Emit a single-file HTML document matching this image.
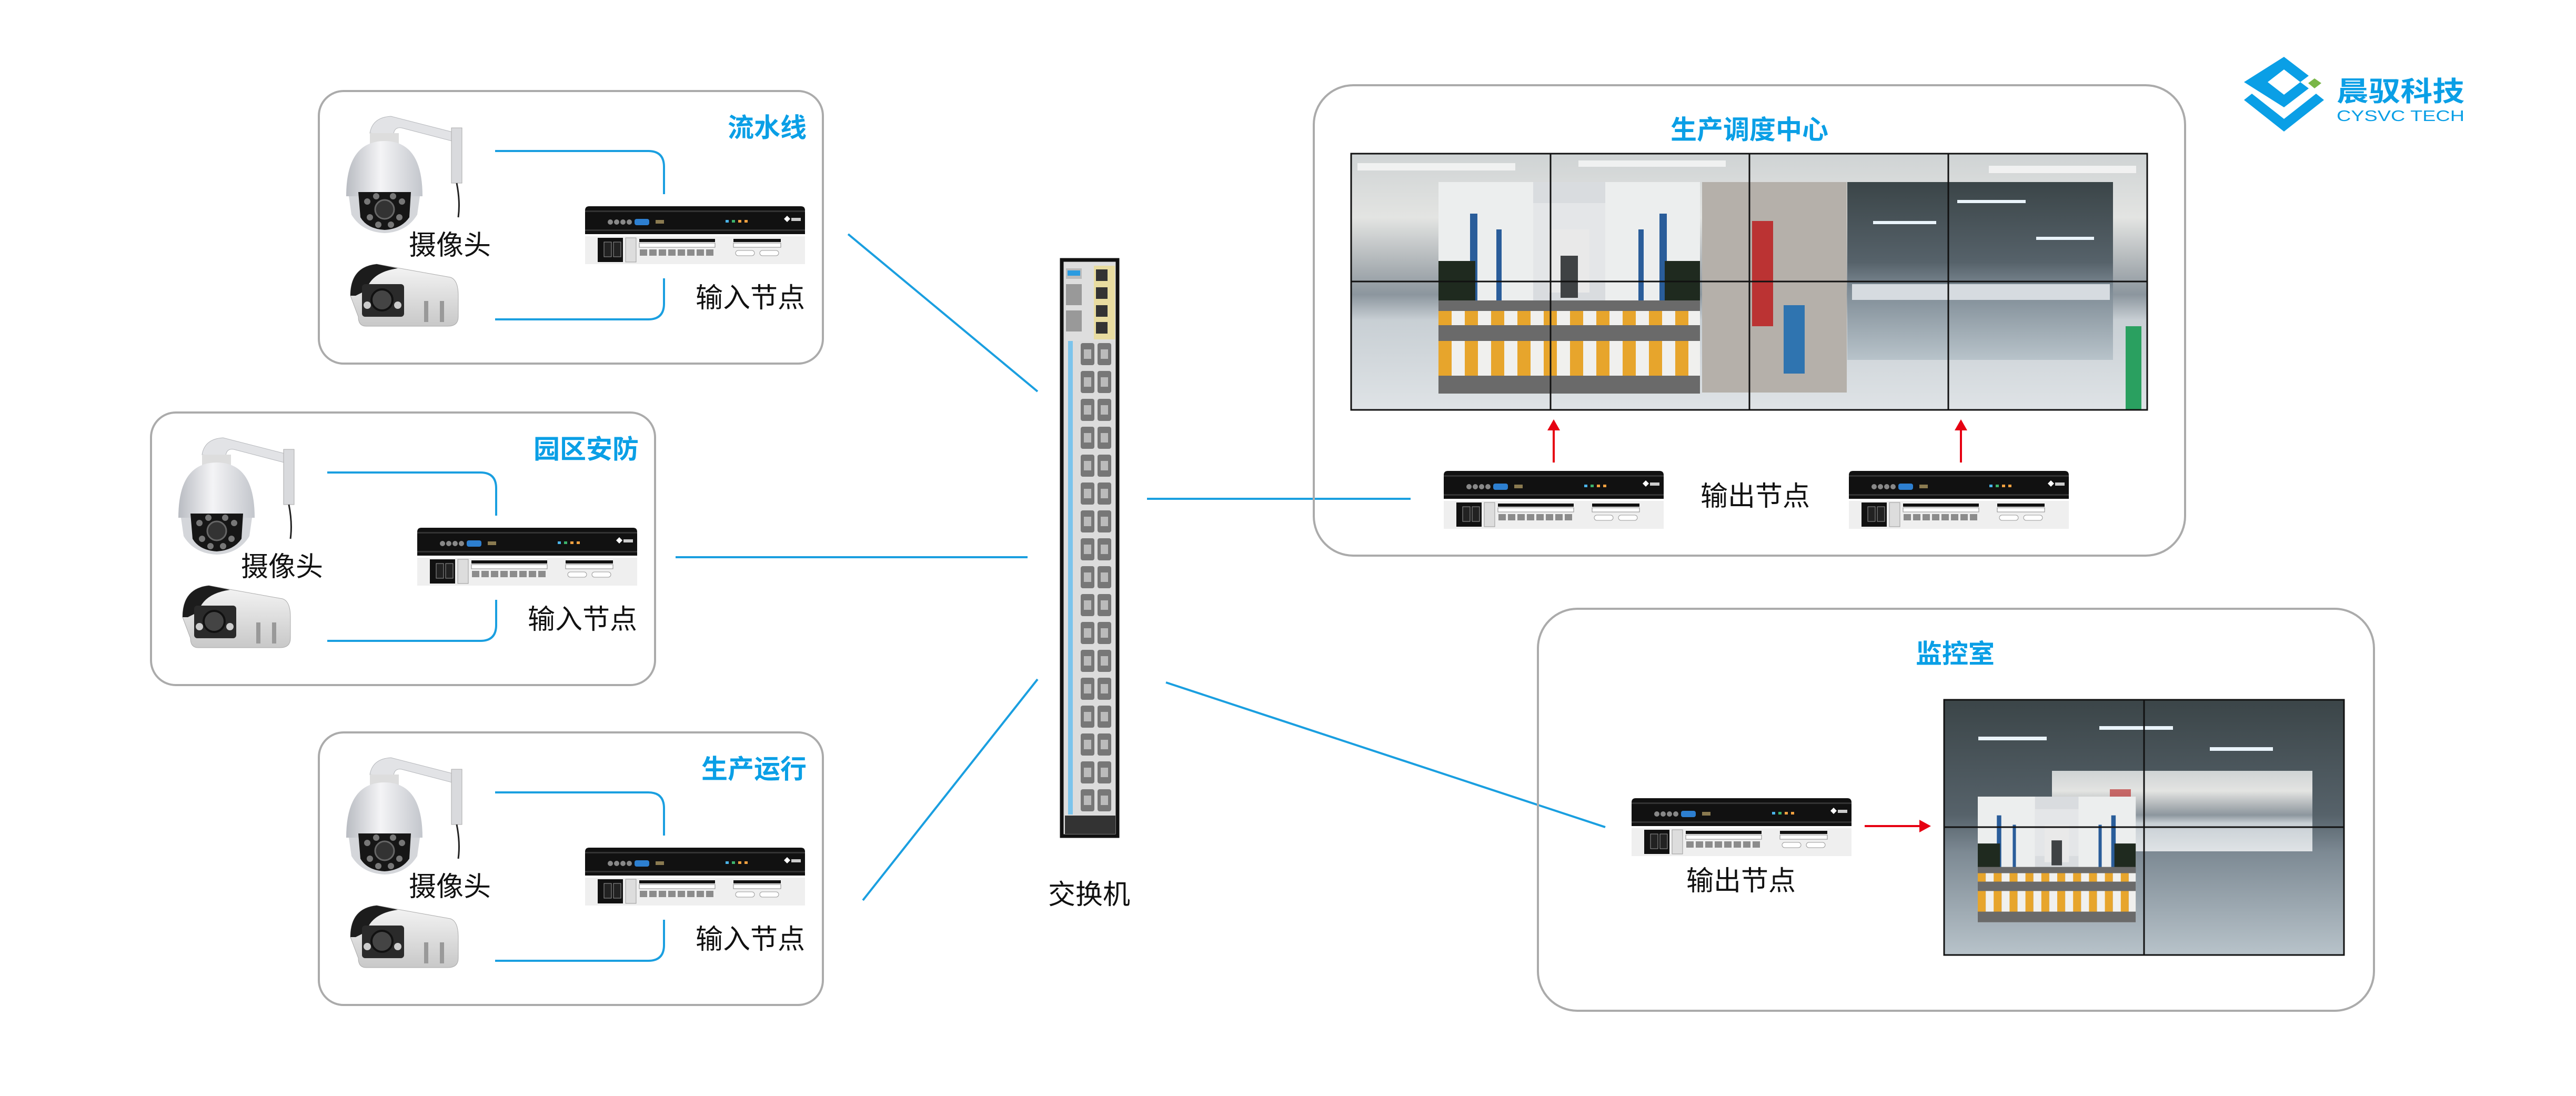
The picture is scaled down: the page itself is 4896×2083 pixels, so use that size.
<!DOCTYPE html>
<html><head><meta charset="utf-8"><style>
html,body{margin:0;padding:0;background:#fff;}
svg{display:block;}
.t{font-family:"Liberation Sans","Noto Sans CJK SC",sans-serif;}
</style></head><body>
<svg width="4896" height="2083" viewBox="0 0 4896 2083" xmlns="http://www.w3.org/2000/svg">
<defs>
<linearGradient id="fact" x1="0" y1="0" x2="0" y2="1">
<stop offset="0" stop-color="#cfd3d4"/><stop offset="0.25" stop-color="#e3e4e2"/><stop offset="0.45" stop-color="#a9afb3"/><stop offset="0.55" stop-color="#8c969e"/><stop offset="0.65" stop-color="#c8cfd4"/><stop offset="1" stop-color="#dfe3e6"/>
</linearGradient>
<linearGradient id="dark" x1="0" y1="0" x2="0" y2="1">
<stop offset="0" stop-color="#3b4548"/><stop offset="0.45" stop-color="#56626a"/><stop offset="0.6" stop-color="#7d8a94"/><stop offset="1" stop-color="#b8c3ca"/>
</linearGradient>
<linearGradient id="dome" x1="0" y1="0" x2="1" y2="0">
<stop offset="0" stop-color="#b9bcc2"/><stop offset="0.45" stop-color="#f4f4f6"/><stop offset="1" stop-color="#c3c6cc"/>
</linearGradient>
<linearGradient id="bul" x1="0" y1="0" x2="0" y2="1">
<stop offset="0" stop-color="#f5f5f5"/><stop offset="1" stop-color="#c8c8c8"/>
</linearGradient>
<pattern id="cross" x="0" y="0" width="50" height="10" patternUnits="userSpaceOnUse">
<rect width="25" height="10" fill="#e7a52c"/><rect x="25" width="25" height="10" fill="#f0f0ee"/>
</pattern>

<g id="bld">
<rect x="0" y="0" width="497" height="402" fill="#d9dcdf"/>
<rect x="0" y="0" width="180" height="230" fill="#eceeee"/>
<rect x="317" y="0" width="180" height="230" fill="#eceeee"/>
<rect x="180" y="40" width="137" height="150" fill="#e4e6e8"/>
<rect x="210" y="90" width="77" height="120" fill="#e9e9e9"/>
<rect x="232" y="140" width="33" height="80" fill="#3f4244"/>
<rect x="60" y="60" width="14" height="170" fill="#2a5d9a"/>
<rect x="110" y="90" width="10" height="140" fill="#2a5d9a"/>
<rect x="380" y="90" width="10" height="140" fill="#2a5d9a"/>
<rect x="420" y="60" width="14" height="170" fill="#2a5d9a"/>
<rect x="0" y="150" width="70" height="95" fill="#1f2a1f"/>
<rect x="430" y="150" width="67" height="95" fill="#1f2a1f"/>
<rect x="0" y="225" width="497" height="177" fill="#6a6a6a"/>
<rect x="0" y="245" width="497" height="27" fill="url(#cross)"/>
<rect x="0" y="302" width="497" height="66" fill="url(#cross)"/>
</g>

<g id="dev">
<path d="M0,8 Q0,0 8,0 H410 Q418,0 418,8 V53 H0 Z" fill="#111"/>
<rect x="0" y="8" width="418" height="3" fill="#333"/>
<rect x="0" y="44" width="418" height="3" fill="#333"/>
<g fill="#888"><circle cx="48" cy="30" r="5"/><circle cx="60" cy="30" r="5"/><circle cx="72" cy="30" r="5"/><circle cx="84" cy="30" r="5"/></g>
<rect x="94" y="24" width="28" height="12" rx="4" fill="#2d7fd0"/>
<rect x="134" y="26" width="16" height="7" fill="#8a7a50"/>
<rect x="267" y="26" width="6" height="5" fill="#4ab3e8"/><rect x="279" y="26" width="6" height="5" fill="#3cb36c"/><rect x="291" y="26" width="6" height="5" fill="#f0a040"/><rect x="303" y="26" width="6" height="5" fill="#f0a040"/>
<polygon points="378,24 384,18 390,24 384,30" fill="#fff"/>
<rect x="392" y="22" width="18" height="6" fill="#ccc"/>
<rect x="0" y="57" width="418" height="53" fill="#efefef"/>
<rect x="24" y="60" width="48" height="46" fill="#111"/>
<rect x="36" y="68" width="14" height="28" fill="#222" stroke="#999"/>
<rect x="54" y="68" width="14" height="28" fill="#222" stroke="#999"/>
<rect x="77" y="60" width="20" height="46" fill="#ddd" stroke="#999"/>
<rect x="103" y="62" width="144" height="6" fill="#111"/>
<rect x="103" y="70" width="144" height="8" fill="#fff" stroke="#888"/>
<g fill="#8c8c8c"><rect x="104" y="82" width="14" height="12"/><rect x="122" y="82" width="14" height="12"/><rect x="140" y="82" width="14" height="12"/><rect x="158" y="82" width="14" height="12"/><rect x="176" y="82" width="14" height="12"/><rect x="194" y="82" width="14" height="12"/><rect x="212" y="82" width="14" height="12"/><rect x="230" y="82" width="14" height="12"/></g>
<rect x="282" y="62" width="90" height="6" fill="#111"/>
<rect x="282" y="70" width="90" height="8" fill="#fff" stroke="#888"/>
<rect x="286" y="84" width="36" height="10" rx="5" fill="#fff" stroke="#999"/>
<rect x="332" y="84" width="36" height="10" rx="5" fill="#fff" stroke="#999"/>
</g>

<g id="domecam">
<path d="M50,40 Q55,10 90,8 L215,40 L225,45 L225,60 L110,30 Q95,28 95,45 Z" fill="#e2e3e6" stroke="#b5b7bb"/>
<rect x="205" y="30" width="20" height="105" fill="#d9dadd" stroke="#aaa"/>
<path d="M215,135 Q222,170 218,200" stroke="#222" stroke-width="3" fill="none"/>
<rect x="50" y="40" width="55" height="20" fill="#ddd"/>
<path d="M5,160 Q5,55 78,55 Q150,55 150,160 Z" fill="url(#dome)"/>
<path d="M10,160 L145,160 L140,195 Q120,228 78,230 Q35,228 15,195 Z" fill="#d4d6da"/>
<path d="M28,152 L128,152 L125,200 Q110,222 78,224 Q45,222 32,200 Z" fill="#161616"/>
<circle cx="78" cy="185" r="18" fill="#333" stroke="#666" stroke-width="3"/>
<g fill="#777"><circle cx="45" cy="170" r="6"/><circle cx="111" cy="170" r="6"/><circle cx="50" cy="200" r="6"/><circle cx="106" cy="200" r="6"/><circle cx="62" cy="160" r="6"/><circle cx="94" cy="160" r="6"/><circle cx="66" cy="214" r="6"/><circle cx="90" cy="214" r="6"/></g>
</g>
<g id="bulcam">
<path d="M10,60 Q10,5 60,0 L200,25 Q215,30 215,60 L215,100 Q215,118 195,118 L40,118 Q25,118 25,100 Z" fill="url(#bul)" stroke="#aaa"/>
<path d="M10,60 Q10,5 60,0 L100,8 Q50,15 40,50 L20,60 Z" fill="#1c1c1c"/>
<rect x="32" y="38" width="80" height="62" rx="6" fill="#2a2a2a"/>
<circle cx="70" cy="68" r="20" fill="#444" stroke="#111" stroke-width="4"/>
<circle cx="42" cy="78" r="7" fill="#ccc"/><circle cx="100" cy="78" r="7" fill="#ccc"/>
<rect x="150" y="70" width="8" height="40" fill="#999"/><rect x="180" y="70" width="8" height="40" fill="#999"/>
</g>

<g id="boxc">
<rect x="606" y="173" width="958" height="518" rx="47" fill="none" stroke="#ababab" stroke-width="4"/>
<use href="#domecam" x="653" y="213"/>
<use href="#bulcam" x="656" y="502"/>
<text class="t" x="777" y="484" font-size="52" fill="#111">摄像头</text>
<text class="t" x="1530" y="584" font-size="52" fill="#111" text-anchor="end">输入节点</text>
<path d="M941,287 H1232 Q1262,287 1262,317 V369" fill="none" stroke="#1a9fe0" stroke-width="4"/>
<path d="M1262,529 V577 Q1262,607 1232,607 H941" fill="none" stroke="#1a9fe0" stroke-width="4"/>
<use href="#dev" x="1112" y="392"/>
</g>

<pattern id="ports" x="2030" y="648" width="90" height="53" patternUnits="userSpaceOnUse">
<rect width="90" height="53" fill="#dcdcdc"/>
<rect x="24" y="4" width="26" height="42" rx="4" fill="#777"/>
<rect x="56" y="4" width="26" height="42" rx="4" fill="#777"/>
<rect x="30" y="16" width="14" height="18" fill="#bbb"/>
<rect x="62" y="16" width="14" height="18" fill="#bbb"/>
<rect x="0" y="0" width="9" height="53" fill="#7cc4ec"/>
</pattern>
</defs>

<rect width="4896" height="2083" fill="#fff"/>

<use href="#boxc"/>
<text class="t" x="1533" y="260" font-size="50" font-weight="bold" fill="#0a9fe6" text-anchor="end">流水线</text>
<use href="#boxc" x="-319" y="611"/>
<text class="t" x="1214" y="871" font-size="50" font-weight="bold" fill="#0a9fe6" text-anchor="end">园区安防</text>
<use href="#boxc" x="0" y="1219"/>
<text class="t" x="1533" y="1479" font-size="50" font-weight="bold" fill="#0a9fe6" text-anchor="end">生产运行</text>

<g stroke="#1a9fe0" stroke-width="4" fill="none">
<line x1="1612" y1="445" x2="1972" y2="744"/>
<line x1="1284" y1="1059" x2="1953" y2="1059"/>
<line x1="1640" y1="1711" x2="1972" y2="1291"/>
<line x1="2180" y1="948" x2="2681" y2="948"/>
<line x1="2216" y1="1297" x2="3051" y2="1572"/>
</g>

<rect x="2018" y="494" width="106" height="1095" fill="#dedede" stroke="#111" stroke-width="7"/>
<rect x="2026" y="510" width="30" height="20" fill="#bbb"/><rect x="2029" y="514" width="24" height="10" fill="#2a9be0"/>
<rect x="2026" y="540" width="30" height="40" fill="#999"/>
<rect x="2026" y="590" width="30" height="40" fill="#999"/>
<rect x="2079" y="505" width="40" height="140" fill="#e8dca0"/>
<g fill="#333"><rect x="2083" y="512" width="22" height="22"/><rect x="2083" y="546" width="22" height="22"/><rect x="2083" y="580" width="22" height="22"/><rect x="2083" y="612" width="22" height="22"/></g>
<rect x="2030" y="648" width="90" height="900" fill="url(#ports)"/>
<rect x="2024" y="1550" width="96" height="35" fill="#333"/>
<text class="t" x="2070" y="1718" font-size="52" fill="#111" text-anchor="middle">交换机</text>

<rect x="2497" y="162" width="1656" height="894" rx="75" fill="none" stroke="#ababab" stroke-width="4"/>
<text class="t" x="3325" y="264" font-size="50" font-weight="bold" fill="#0a9fe6" text-anchor="middle">生产调度中心</text>
<rect x="2568" y="292" width="1513" height="487" fill="url(#fact)"/>
<g fill="#f8f8f8" opacity="0.8"><rect x="2580" y="310" width="300" height="14"/><rect x="3000" y="305" width="280" height="12"/><rect x="3780" y="315" width="280" height="14"/></g>
<rect x="3235" y="346" width="275" height="400" fill="#b5b0aa"/>
<rect x="3330" y="420" width="40" height="200" fill="#b33"/>
<rect x="3390" y="580" width="40" height="130" fill="#2f74b0"/>
<rect x="4040" y="620" width="30" height="159" fill="#2aa060"/>
<use href="#bld" x="2734" y="346"/>
<rect x="3511" y="346" width="505" height="338" fill="url(#dark)"/>
<g fill="#eaf4fb"><rect x="3560" y="420" width="120" height="6"/><rect x="3720" y="380" width="130" height="6"/><rect x="3870" y="450" width="110" height="6"/></g>
<rect x="3520" y="540" width="490" height="30" fill="#d6dbe0"/>
<g stroke="#111" stroke-width="3" fill="none">
<rect x="2568" y="292" width="1513" height="487"/>
<line x1="2947" y1="292" x2="2947" y2="779"/><line x1="3325" y1="292" x2="3325" y2="779"/><line x1="3703" y1="292" x2="3703" y2="779"/>
<line x1="2568" y1="535" x2="4081" y2="535"/>
</g>
<g stroke="#e60012" stroke-width="4"><line x1="2953" y1="879" x2="2953" y2="815"/><line x1="3727" y1="879" x2="3727" y2="815"/></g>
<g fill="#e60012"><polygon points="2941,818 2953,797 2965,818"/><polygon points="3715,818 3727,797 3739,818"/></g>
<use href="#dev" x="2744" y="895"/>
<use href="#dev" x="3514" y="895"/>
<text class="t" x="3336" y="961" font-size="52" fill="#111" text-anchor="middle">输出节点</text>

<rect x="2923" y="1157" width="1589" height="764" rx="75" fill="none" stroke="#ababab" stroke-width="4"/>
<text class="t" x="3716" y="1260" font-size="50" font-weight="bold" fill="#0a9fe6" text-anchor="middle">监控室</text>
<use href="#dev" x="3101" y="1517"/>
<text class="t" x="3309" y="1692" font-size="52" fill="#111" text-anchor="middle">输出节点</text>
<line x1="3544" y1="1570" x2="3650" y2="1570" stroke="#e60012" stroke-width="4"/>
<polygon points="3648,1558 3670,1570 3648,1582" fill="#e60012"/>
<rect x="3695" y="1330" width="760" height="485" fill="url(#dark)"/>
<g fill="#eaf4fb"><rect x="3760" y="1400" width="130" height="7"/><rect x="3990" y="1380" width="140" height="7"/><rect x="4200" y="1420" width="120" height="7"/></g>
<rect x="3900" y="1465" width="495" height="153" fill="url(#fact)"/>
<rect x="4010" y="1500" width="40" height="80" fill="#b33" opacity="0.7"/>
<g transform="translate(3759,1514) scale(0.604,0.594)"><use href="#bld"/></g>
<g stroke="#111" stroke-width="3" fill="none">
<rect x="3695" y="1330" width="760" height="485"/>
<line x1="4075" y1="1330" x2="4075" y2="1815"/>
<line x1="3695" y1="1572" x2="4455" y2="1572"/>
</g>

<polygon points="4341,108 4388,144 4372,156 4341,132 4310,156 4341,180 4372,156 4388,168 4341,204 4265,156" fill="#0a9fe6"/>
<polygon points="4265,190 4280,178 4341,226 4402,178 4417,190 4341,250" fill="#0a9fe6"/>
<polygon points="4387,158 4399,149 4412,158 4399,168" fill="#7ab648"/>
<text class="t" x="4441" y="192" font-size="52" font-weight="bold" fill="#0a9fe6" textLength="243" lengthAdjust="spacingAndGlyphs">晨驭科技</text>
<text class="t" x="4441" y="230" font-size="29" fill="#0a9fe6" textLength="243" lengthAdjust="spacingAndGlyphs">CYSVC TECH</text>
</svg>
</body></html>
